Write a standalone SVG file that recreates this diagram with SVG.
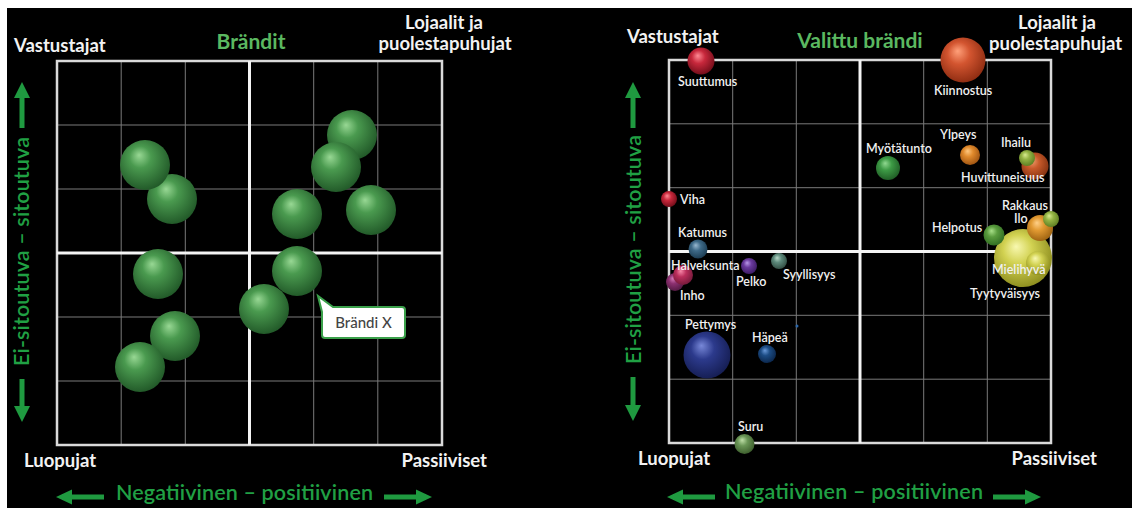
<svg xmlns="http://www.w3.org/2000/svg" width="1132" height="508" viewBox="0 0 1132 508">
<defs>
<style>
.lbl{font-family:Lato,"Noto Sans",sans-serif;font-weight:700;fill:#f2f2f2;font-size:18.5px}
.title{font-family:Lato,"Noto Sans",sans-serif;font-weight:700;fill:#5bb860;font-size:21px}
.axis{font-family:Lato,"Noto Sans",sans-serif;font-weight:600;fill:#20a044;font-size:21.5px}
.em{font-family:Lato,"Noto Sans",sans-serif;font-weight:600;fill:#f0f0f0;font-size:12.5px}
.grid{stroke:#7a7a7a;stroke-width:1;fill:none}
.border{stroke:#dadada;stroke-width:2.5;fill:none}
.mid{stroke:#f4f4f4;stroke-width:3;fill:none}
.arrow{fill:#1f9a40}
.callout{fill:#ffffff;stroke:#3aa04a;stroke-width:2}
.ctext{font-family:Lato,"Noto Sans",sans-serif;font-size:15px;fill:#444;font-weight:500}
</style>
<radialGradient id="gG" cx="0.45" cy="0.42" r="0.62" fx="0.38" fy="0.3"><stop offset="0" stop-color="#98d894"/><stop offset="0.35" stop-color="#4a9a4f"/><stop offset="1" stop-color="#1f5526"/></radialGradient>
<radialGradient id="gRed" cx="0.45" cy="0.42" r="0.62" fx="0.38" fy="0.3"><stop offset="0" stop-color="#ff8a94"/><stop offset="0.4" stop-color="#c8283c"/><stop offset="1" stop-color="#6e0c18"/></radialGradient>
<radialGradient id="gKii" cx="0.45" cy="0.42" r="0.62" fx="0.38" fy="0.3"><stop offset="0" stop-color="#ffa07a"/><stop offset="0.4" stop-color="#d35530"/><stop offset="1" stop-color="#8a2a10"/></radialGradient>
<radialGradient id="gGr2" cx="0.45" cy="0.42" r="0.62" fx="0.38" fy="0.3"><stop offset="0" stop-color="#90d890"/><stop offset="0.4" stop-color="#3d9a45"/><stop offset="1" stop-color="#1e5a24"/></radialGradient>
<radialGradient id="gOr" cx="0.45" cy="0.42" r="0.62" fx="0.38" fy="0.3"><stop offset="0" stop-color="#ffc880"/><stop offset="0.4" stop-color="#e08a2c"/><stop offset="1" stop-color="#9a5010"/></radialGradient>
<radialGradient id="gOrR" cx="0.45" cy="0.42" r="0.62" fx="0.38" fy="0.3"><stop offset="0" stop-color="#f0a070"/><stop offset="0.4" stop-color="#c85a2a"/><stop offset="1" stop-color="#803010"/></radialGradient>
<radialGradient id="gYG" cx="0.45" cy="0.42" r="0.62" fx="0.38" fy="0.3"><stop offset="0" stop-color="#d8ec90"/><stop offset="0.4" stop-color="#94b444"/><stop offset="1" stop-color="#5a7a20"/></radialGradient>
<radialGradient id="gIlo" cx="0.45" cy="0.42" r="0.62" fx="0.38" fy="0.3"><stop offset="0" stop-color="#ffd088"/><stop offset="0.4" stop-color="#e29a32"/><stop offset="1" stop-color="#9a6010"/></radialGradient>
<radialGradient id="gHel" cx="0.45" cy="0.42" r="0.62" fx="0.38" fy="0.3"><stop offset="0" stop-color="#a8e088"/><stop offset="0.4" stop-color="#5a9c3e"/><stop offset="1" stop-color="#2e6a20"/></radialGradient>
<radialGradient id="gYel" cx="0.45" cy="0.42" r="0.62" fx="0.38" fy="0.3"><stop offset="0" stop-color="#f8f8b0"/><stop offset="0.4" stop-color="#d2d252"/><stop offset="1" stop-color="#8a8a1c"/></radialGradient>
<radialGradient id="gKat" cx="0.45" cy="0.42" r="0.62" fx="0.38" fy="0.3"><stop offset="0" stop-color="#98b8d0"/><stop offset="0.4" stop-color="#3e6a88"/><stop offset="1" stop-color="#1a3a50"/></radialGradient>
<radialGradient id="gHal" cx="0.45" cy="0.42" r="0.62" fx="0.38" fy="0.3"><stop offset="0" stop-color="#f888a8"/><stop offset="0.4" stop-color="#bb2e5c"/><stop offset="1" stop-color="#701838"/></radialGradient>
<radialGradient id="gInho" cx="0.45" cy="0.42" r="0.62" fx="0.38" fy="0.3"><stop offset="0" stop-color="#d878b8"/><stop offset="0.4" stop-color="#8c3070"/><stop offset="1" stop-color="#501840"/></radialGradient>
<radialGradient id="gPel" cx="0.45" cy="0.42" r="0.62" fx="0.38" fy="0.3"><stop offset="0" stop-color="#b898e8"/><stop offset="0.4" stop-color="#6a3a9e"/><stop offset="1" stop-color="#3a1a60"/></radialGradient>
<radialGradient id="gSyy" cx="0.45" cy="0.42" r="0.62" fx="0.38" fy="0.3"><stop offset="0" stop-color="#b8d8c8"/><stop offset="0.4" stop-color="#5e8a7c"/><stop offset="1" stop-color="#304a40"/></radialGradient>
<radialGradient id="gPet" cx="0.45" cy="0.42" r="0.62" fx="0.38" fy="0.3"><stop offset="0" stop-color="#7888d8"/><stop offset="0.4" stop-color="#2c3a8c"/><stop offset="1" stop-color="#141c50"/></radialGradient>
<radialGradient id="gHap" cx="0.45" cy="0.42" r="0.62" fx="0.38" fy="0.3"><stop offset="0" stop-color="#6898d8"/><stop offset="0.4" stop-color="#1c4c84"/><stop offset="1" stop-color="#0a2448"/></radialGradient>
<radialGradient id="gSuru" cx="0.45" cy="0.42" r="0.62" fx="0.38" fy="0.3"><stop offset="0" stop-color="#c0e0a8"/><stop offset="0.4" stop-color="#6a9656"/><stop offset="1" stop-color="#3a5a2a"/></radialGradient>
</defs>

<rect x="0" y="0" width="1132" height="508" fill="#ffffff"/>
<rect x="7" y="8" width="1125" height="500" fill="#000000"/>

<!-- LEFT PANEL -->
<g id="left-grid">
  <path class="grid" d="M121.2,61V445M185.3,61V445M313.7,61V445M377.8,61V445M57,125H442M57,189H442M57,317H442M57,381H442"/>
  <rect class="border" x="57" y="61" width="385" height="384"/>
  <path class="mid" d="M249.5,61V445M57,253H442"/>
</g>
<g id="left-labels">
  <text class="lbl" x="14" y="52">Vastustajat</text>
  <text class="title" x="251" y="49" text-anchor="middle">Brändit</text>
  <text class="lbl" x="444" y="29" text-anchor="middle">Lojaalit ja</text>
  <text class="lbl" x="445" y="50" text-anchor="middle">puolestapuhujat</text>
  <text class="lbl" x="24" y="467">Luopujat</text>
  <text class="lbl" x="487" y="467" text-anchor="end">Passiiviset</text>
  <text class="axis" x="116" y="500" textLength="257" lengthAdjust="spacing">Negatiivinen – positiivinen</text>
  <text class="axis" transform="translate(28.5,366) rotate(-90)" textLength="229" lengthAdjust="spacing">Ei-sitoutuva – sitoutuva</text>
  <path class="arrow" d="M56,497L72,489.5V494.5H104V499.5H72V504.5Z"/>
  <path class="arrow" d="M432,497L416,489.5V494.5H384V499.5H416V504.5Z"/>
  <path class="arrow" d="M22,82L14,98H19.5V128H24.5V98H30Z"/>
  <path class="arrow" d="M22,422L14,406H19.5V379H24.5V406H30Z"/>
</g>
<g id="left-brands">
  <circle id="brand2" cx="172" cy="199" r="25" fill="url(#gG)"/>
  <circle id="brand1" cx="145" cy="165" r="25" fill="url(#gG)"/>
  <circle id="brand3" cx="352" cy="135" r="25" fill="url(#gG)"/>
  <circle id="brand4" cx="336" cy="167" r="25" fill="url(#gG)"/>
  <circle id="brand5" cx="297" cy="214" r="25" fill="url(#gG)"/>
  <circle id="brand6" cx="371" cy="210" r="25" fill="url(#gG)"/>
  <circle id="brand7" cx="158" cy="274" r="25" fill="url(#gG)"/>
  <circle id="brand8" cx="297" cy="271" r="25" fill="url(#gG)"/>
  <circle id="brand9" cx="264" cy="309" r="25" fill="url(#gG)"/>
  <circle id="brand10" cx="175" cy="336" r="25" fill="url(#gG)"/>
  <circle id="brand11" cx="140" cy="367" r="25" fill="url(#gG)"/>
</g>
<g id="callout-brandi-x">
  <path class="callout" d="M322,312L318,296L333,307H402Q405,307 405,310V335Q405,338 402,338H325Q322,338 322,335Z"/>
  <text class="ctext" x="363.5" y="328" text-anchor="middle">Brändi X</text>
</g>

<!-- RIGHT PANEL -->
<g id="right-grid">
  <path class="grid" d="M732.7,60V443M796.3,60V443M923.7,60V443M987.3,60V443M669,123.8H1051M669,187.7H1051M669,315.3H1051M669,379.2H1051"/>
  <rect class="border" x="669" y="60" width="382" height="383"/>
  <path class="mid" d="M860,60V443M669,251.5H1051"/>
</g>
<g id="right-labels">
  <text class="lbl" x="627" y="43">Vastustajat</text>
  <text class="title" x="860" y="48" text-anchor="middle">Valittu brändi</text>
  <text class="lbl" x="1057" y="29" text-anchor="middle">Lojaalit ja</text>
  <text class="lbl" x="1055.5" y="50" text-anchor="middle">puolestapuhujat</text>
  <text class="lbl" x="638" y="465">Luopujat</text>
  <text class="lbl" x="1097" y="465" text-anchor="end">Passiiviset</text>
  <text class="axis" x="725" y="499" textLength="258" lengthAdjust="spacing">Negatiivinen – positiivinen</text>
  <text class="axis" transform="translate(640.5,364) rotate(-90)" textLength="229" lengthAdjust="spacing">Ei-sitoutuva – sitoutuva</text>
  <path class="arrow" d="M667,497L683,489.5V494.5H715V499.5H683V504.5Z"/>
  <path class="arrow" d="M1041,497L1025,489.5V494.5H993V499.5H1025V504.5Z"/>
  <path class="arrow" d="M633,82L625,98H630.5V128H635.5V98H641Z"/>
  <path class="arrow" d="M633,421L625,405H630.5V377H635.5V405H641Z"/>
</g>
<g id="connectors"/>

<g id="suuttumus"><circle cx="701" cy="61" r="13.5" fill="url(#gRed)"/><text class="em" x="678" y="86">Suuttumus</text></g>
<g id="kiinnostus"><circle cx="963" cy="60" r="22.5" fill="url(#gKii)"/><text class="em" x="934" y="95">Kiinnostus</text></g>
<g id="myotatunto"><circle cx="888" cy="168" r="12" fill="url(#gGr2)"/><text class="em" x="866" y="153">Myötätunto</text></g>
<g id="ylpeys"><circle cx="970" cy="155" r="10" fill="url(#gOr)"/><text class="em" x="940" y="139">Ylpeys</text></g>
<g id="huvittuneisuus"><circle cx="1035" cy="166" r="13.5" fill="url(#gOrR)"/><text class="em" x="961" y="182">Huvittuneisuus</text></g>
<g id="ihailu"><circle cx="1027" cy="158" r="8" fill="url(#gYG)"/><text class="em" x="1001" y="147">Ihailu</text></g>
<g id="viha"><circle cx="669" cy="199" r="8" fill="url(#gRed)"/><text class="em" x="680" y="204">Viha</text></g>
<g id="katumus"><circle cx="698" cy="249" r="9.5" fill="url(#gKat)"/><text class="em" x="678" y="237">Katumus</text></g>
<g id="inho"><circle cx="675" cy="282" r="9" fill="url(#gInho)"/><text class="em" x="680" y="300">Inho</text></g>
<g id="halveksunta"><circle cx="683" cy="275" r="10" fill="url(#gHal)"/><text class="em" x="671" y="270">Halveksunta</text></g>
<g id="pelko"><circle cx="749" cy="266" r="8" fill="url(#gPel)"/><text class="em" x="736" y="286">Pelko</text></g>
<g id="syyllisyys"><circle cx="779" cy="261" r="8" fill="url(#gSyy)"/><text class="em" x="783" y="279">Syyllisyys</text></g>
<g id="pettymys"><circle cx="707" cy="355" r="23.5" fill="url(#gPet)"/><text class="em" x="685" y="329">Pettymys</text></g>
<g id="hapea"><circle cx="767" cy="354" r="9" fill="url(#gHap)"/><text class="em" x="752" y="342">Häpeä</text></g>
<g id="dot"><circle cx="797" cy="326" r="1.5" fill="#2a66aa"/></g>
<g id="suru"><circle cx="744.5" cy="444" r="10" fill="url(#gSuru)"/><text class="em" x="738" y="431">Suru</text></g>
<g id="mielihyva"><circle cx="1023" cy="258" r="29" fill="url(#gYel)"/><circle cx="1038" cy="263" r="12" fill="url(#gYel)"/><text class="em" x="992" y="274">Mielihyvä</text><text class="em" x="970" y="298">Tyytyväisyys</text></g>
<g id="helpotus"><circle cx="994" cy="235" r="10.5" fill="url(#gHel)"/><text class="em" x="932" y="232">Helpotus</text></g>
<g id="ilo"><circle cx="1040" cy="228" r="13" fill="url(#gIlo)"/><text class="em" x="1014" y="223">Ilo</text></g>
<g id="rakkaus"><circle cx="1051" cy="219" r="8" fill="url(#gYG)"/><text class="em" x="1002" y="210">Rakkaus</text></g>
</svg>
